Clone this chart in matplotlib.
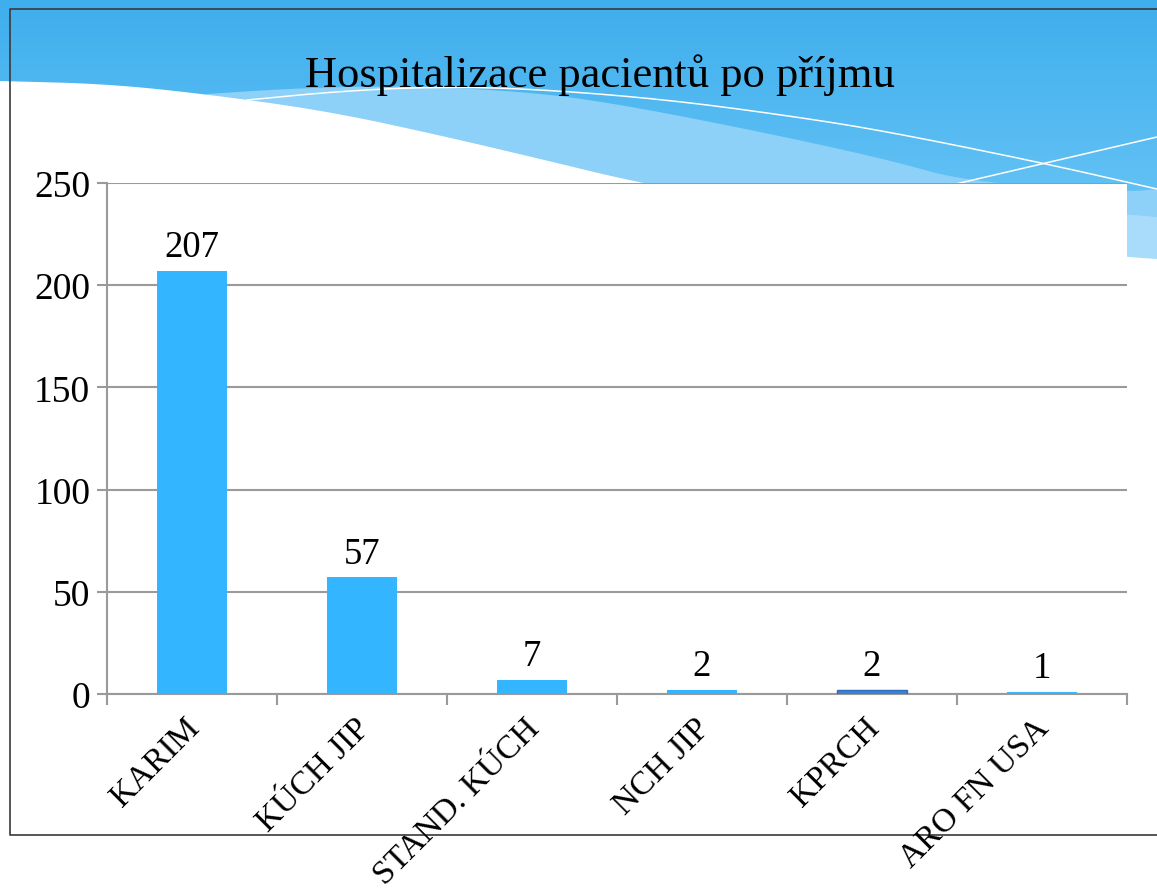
import numpy as np
import matplotlib
matplotlib.use("Agg")
import matplotlib.pyplot as plt
from matplotlib.patches import Polygon
from matplotlib.transforms import ScaledTranslation

# -----------------------------
# Data
# -----------------------------
categories = ["KARIM", "KÚCH JIP", "STAND. KÚCH", "NCH JIP", "KPRCH", "ARO FN USA"]
values = [207, 57, 7, 2, 2, 1]
yticks = [0, 50, 100, 150, 200, 250]
title = "Hospitalizace pacientů po příjmu"

BAR = "#33b5ff"
BAR_DARK = "#3d82d4"
GRID = "#9a9a9a"
FONT = ["Liberation Serif", "DejaVu Serif"]

W, H = 1157, 895
plt.rcParams["font.family"] = FONT


def smooth(pts, n=4):
    # Chaikin corner cutting, keeps end points
    p = np.asarray(pts, float)
    for _ in range(n):
        q = 0.75 * p[:-1] + 0.25 * p[1:]
        r = 0.25 * p[:-1] + 0.75 * p[1:]
        mid = np.empty((2 * len(q), 2))
        mid[0::2] = q
        mid[1::2] = r
        p = np.vstack([p[0], mid, p[-1]])
    return p


fig = plt.figure(figsize=(W / 100, H / 100), dpi=100)

# -----------------------------
# Slide background (pixel coords)
# -----------------------------
bg = fig.add_axes([0, 0, 1, 1], zorder=0)
top_c = np.array([62, 174, 237]) / 255
low_c = np.array([118, 204, 248]) / 255
t = np.linspace(0, 1, 300)[:, None]
grad = (top_c * (1 - t) + low_c * t)[:, None, :]
bg.imshow(grad, extent=[0, W, 300, 0], aspect="auto", zorder=0)

band_top = smooth([(207, 95), (300, 89), (400, 87), (500, 91), (590, 100),
                   (738, 128), (886, 160), (967, 183), (1127, 193), (1157, 190)])
band1 = np.vstack([band_top, [(1157, 420), (207, 420)]])
bg.add_patch(Polygon(band1, closed=True, fc="#8dd0f8", ec="none", zorder=1))
bg.add_patch(Polygon([(1000, 205), (1157, 218), (1157, 420), (1000, 420)],
                     closed=True, fc="#a9dcfb", ec="none", zorder=1))

white_top = smooth([(0, 82), (111, 85), (221, 97), (332, 113), (443, 137),
                    (553, 163), (635, 183), (900, 235), (1127, 258), (1157, 260)])
white = np.vstack([white_top, [(1157, H), (0, H)]])
bg.add_patch(Polygon(white, closed=True, fc="white", ec="none", zorder=2))

line_a = smooth([(247, 101), (330, 93), (420, 88), (520, 89), (664, 100),
                 (812, 120), (900, 135), (1043, 164), (1157, 190)])
bg.plot(line_a[:, 0], line_a[:, 1], color="white", lw=1.1, zorder=3)
bg.plot([930, 1157], [191, 138], color="white", lw=1.1, zorder=3)

# chart frame
bg.plot([W, 10, 10, W], [10, 10, 836, 836], color="#3a3a3a", lw=1.2, zorder=4)

bg.set_xlim(0, W)
bg.set_ylim(H, 0)
bg.axis("off")

# -----------------------------
# Bar chart
# -----------------------------
ax = fig.add_axes([107 / W, 1 - 695 / H, (1127 - 107) / W, (695 - 184) / H], zorder=1)
ax.set_facecolor("white")

x = np.arange(len(categories))
colors = [BAR] * len(categories)
colors[4] = BAR_DARK
edges = ["none"] * len(categories)
edges[4] = "#2c6cb8"
bars = ax.bar(x, values, width=0.41, color=colors, edgecolor=edges, linewidth=1, zorder=3)

for b, v in zip(bars, values):
    ax.annotate(str(v), (b.get_x() + b.get_width() / 2, v), xytext=(0, 5),
                textcoords="offset points", ha="center", va="bottom", fontsize=26.5)

ax.set_xlim(-0.5, len(categories) - 0.5)
ax.set_ylim(0, 250)
ax.set_yticks(yticks)
ax.yaxis.grid(True, color=GRID, lw=1.5, zorder=0)
ax.set_axisbelow(True)

for s in ["top", "right"]:
    ax.spines[s].set_visible(False)
for s in ["left", "bottom"]:
    ax.spines[s].set_color(GRID)
    ax.spines[s].set_linewidth(1.5)

ax.tick_params(axis="y", length=7, width=1.5, color=GRID, pad=5, labelsize=27)
ax.set_xticks(x)
ax.set_xticks(np.arange(-0.5, len(categories)), minor=True)
ax.tick_params(axis="x", which="minor", length=8, width=1.5, color=GRID)
ax.tick_params(axis="x", which="major", length=0, pad=13, labelsize=24)
ax.set_xticklabels(categories, rotation=45, ha="right", va="top", rotation_mode="anchor")
for lab in ax.get_xticklabels():
    lab.set_transform(lab.get_transform() + ScaledTranslation(-0.08, 0, fig.dpi_scale_trans))

fig.text(600 / W, 1 - 87 / H, title, ha="center", va="baseline", fontsize=32)

fig.savefig("out.png", dpi=100)
